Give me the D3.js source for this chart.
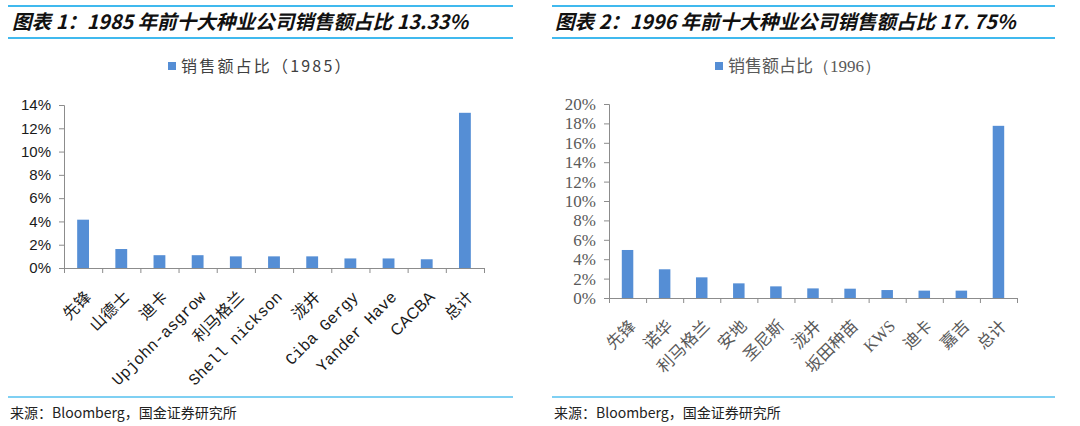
<!DOCTYPE html>
<html>
<head>
<meta charset="utf-8">
<script src="https://cdn.jsdelivr.net/npm/d3@7"></script>
<style>
  body { margin: 0; background: #fff; }
  svg { display: block; }
</style>
</head>
<body>
<div id="chart"></div>
<script>
// 1985 top ten seed companies, share of sales (%)
const cats1985 = ['先锋', '山德士', '迪卡', 'Upjohn-asgrow', '利马格兰', 'Shell nickson', '泷井', 'Ciba Gergy', 'Yander Have', 'CACBA', '总计']
const share1985 = [4.15, 1.63, 1.1, 1.1, 1.0, 1.0, 1.0, 0.82, 0.82, 0.75, 13.33]
const ticks1985 = [0, 2, 4, 6, 8, 10, 12, 14]

// 1996
const cats1996 = ['先锋', '诺华', '利马格兰', '安地', '圣尼斯', '泷井', '坂田种苗', 'KWS', '迪卡', '嘉吉', '总计']
const share1996 = [4.95, 2.96, 2.13, 1.51, 1.2, 0.99, 0.96, 0.82, 0.76, 0.76, 17.75]
const ticks1996 = [0, 2, 4, 6, 8, 10, 12, 14, 16, 18, 20]

const titles = ['图表 1：1985 年前十大种业公司销售额占比 13.33%', '图表 2：1996 年前十大种业公司销售额占比 17. 75%']
const legendNames = ['1985', '1996']
const source = '来源：Bloomberg，国金证券研究所'

const blue = '#00a2e8'
const barColor = '#558ed5'
const axisColor = '#8c8c8c'
const cjk = '"Noto Sans CJK SC", sans-serif'

const svg = d3.select('#chart')
  .append('svg')
  .attr('width', 1080)
  .attr('height', 426)

const panels = [
  {
    cats: cats1985, values: share1985, ticks: ticks1985, title: titles[0], year: legendNames[0],
    x0: 8, x1: 513, titleX: 12,
    left: 64, right: 484, top: 105, bottom: 268,
    legendX: 168,
    yFont: '"Liberation Sans", Arial, sans-serif', yColor: '#1a1a1a', ySize: 15,
    labelFont: d => /^[A-Z]+$/.test(d) ? '"Liberation Sans", Arial, sans-serif' : '"Liberation Mono", "Noto Sans CJK SC", monospace',
    labelSize: 16, labelColor: '#1a1a1a', labelDx: 9, labelDy: 30,
  },
  {
    cats: cats1996, values: share1996, ticks: ticks1996, title: titles[1], year: legendNames[1],
    x0: 552, x1: 1055, titleX: 555,
    left: 609, right: 1017, top: 104, bottom: 298,
    legendX: 715,
    yFont: '"Liberation Serif", "Times New Roman", serif', yColor: '#595959', ySize: 17,
    labelFont: d => /^[A-Z]+$/.test(d) ? '"Liberation Serif", serif' : cjk,
    labelSize: 16.5, labelColor: '#595959', labelDx: 9, labelDy: 29,
  },
]

panels.forEach((p, i) => {
  const g = svg.append('g')

  // header rules + title
  g.append('line')
    .attr('x1', p.x0).attr('x2', p.x1).attr('y1', 6).attr('y2', 6)
    .attr('stroke', blue).attr('stroke-width', 1.5)
  g.append('line')
    .attr('x1', p.x0).attr('x2', p.x1).attr('y1', 38).attr('y2', 38)
    .attr('stroke', blue).attr('stroke-width', 1.5)
  g.append('text')
    .attr('x', p.titleX)
    .attr('y', 29)
    .attr('font-family', cjk)
    .attr('font-size', '19.6px')
    .attr('font-weight', 'bold')
    .attr('font-style', 'italic')
    .attr('fill', '#111')
    .text(p.title)

  // legend
  g.append('rect')
    .attr('x', p.legendX).attr('y', 62)
    .attr('width', 8).attr('height', 8)
    .attr('fill', barColor)
  const leg = g.append('text')
    .attr('x', p.legendX + 13)
    .attr('y', 72)
    .attr('font-size', i === 0 ? '16px' : '17px')
    .attr('fill', i === 0 ? '#404040' : '#595959')
    .attr('font-family', cjk)
  if (i === 0) {
    leg.attr('letter-spacing', '2.2px').text(`销售额占比（${p.year}）`)
  } else {
    leg.append('tspan').text('销售额占比')
    leg.append('tspan').attr('font-family', '"Liberation Serif", serif').text(`（${p.year}）`)
  }

  // scales
  const x = d3.scaleBand()
    .domain(p.cats)
    .range([p.left, p.right])
    .paddingInner(0.69)
    .paddingOuter(0.345)

  const y = d3.scaleLinear()
    .domain([0, d3.max(p.ticks)])
    .range([p.bottom, p.top])

  const edge = d3.scaleLinear()
    .domain([0, p.cats.length])
    .range([p.left, p.right])

  // y axis
  const yAxis = g.append('g')
    .attr('transform', `translate(${p.left}, 0)`)
    .call(d3.axisLeft(y).tickValues(p.ticks).tickSize(5).tickPadding(8).tickFormat(d => `${d}%`))
  yAxis.attr('font-family', p.yFont)
  yAxis.select('.domain').attr('stroke', axisColor)
  yAxis.selectAll('.tick line').attr('stroke', axisColor)
  yAxis.selectAll('.tick text')
    .attr('font-family', p.yFont)
    .attr('font-size', `${p.ySize}px`)
    .attr('fill', p.yColor)

  // bars
  g.selectAll('rect.bar')
    .data(p.values)
    .enter()
    .append('rect')
      .attr('class', 'bar')
      .attr('x', (d, j) => x(p.cats[j]))
      .attr('width', x.bandwidth())
      .attr('y', d => y(d))
      .attr('height', d => y(0) - y(d))
      .attr('fill', barColor)

  // x axis, ticks on category edges
  const xAxis = g.append('g')
    .attr('transform', `translate(0, ${p.bottom})`)
    .call(d3.axisBottom(edge).tickValues(d3.range(p.cats.length + 1)).tickSize(5).tickSizeOuter(0).tickFormat(''))
  xAxis.select('.domain').attr('stroke', axisColor)
  xAxis.selectAll('.tick line').attr('stroke', axisColor)

  // rotated category labels
  g.selectAll('text.cat')
    .data(p.cats)
    .enter()
    .append('text')
      .attr('class', 'cat')
      .attr('text-anchor', 'end')
      .attr('transform', d => `translate(${x(d) + x.bandwidth() / 2 + p.labelDx}, ${p.bottom + p.labelDy}) rotate(-45)`)
      .attr('font-family', p.labelFont)
      .attr('font-size', `${p.labelSize}px`)
      .attr('fill', p.labelColor)
      .text(d => d)

  // source
  g.append('line')
    .attr('x1', p.x0).attr('x2', p.x1).attr('y1', 397).attr('y2', 397)
    .attr('stroke', blue).attr('stroke-width', 1.2)
  g.append('text')
    .attr('x', p.x0 + 2)
    .attr('y', 418)
    .attr('font-family', cjk)
    .attr('font-size', '14px')
    .attr('fill', '#222')
    .text(source)
})
</script>
</body>
</html>
